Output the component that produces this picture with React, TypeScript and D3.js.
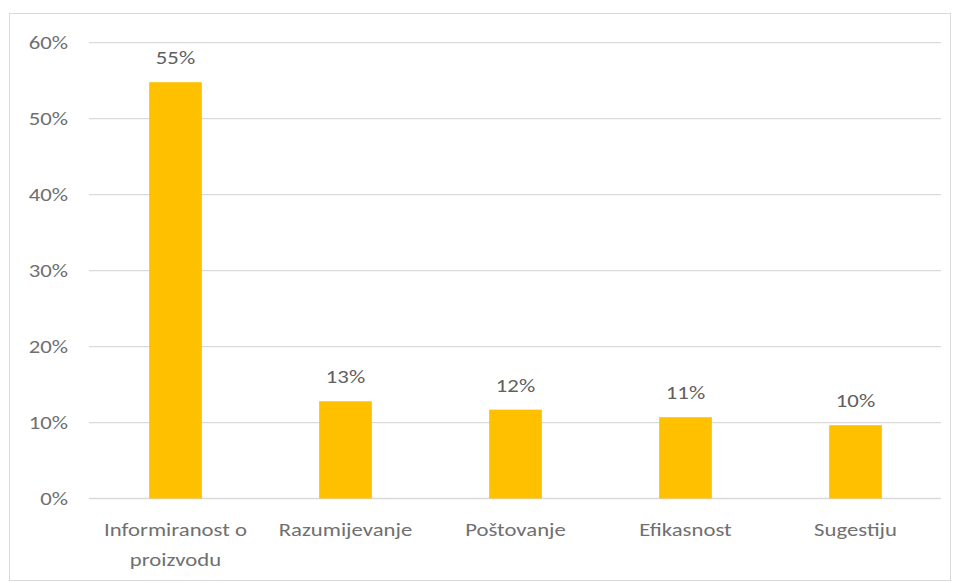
import React from "react";
import * as d3 from "d3";

const categories = ["Informiranost o|proizvodu", "Razumijevanje", "Poštovanje", "Efikasnost", "Sugestiju"];
const values = [0.548, 0.128, 0.117, 0.107, 0.0965];
const valueLabels = ["55%", "13%", "12%", "11%", "10%"];
const yTicks = [0, 0.1, 0.2, 0.3, 0.4, 0.5, 0.6];

const W = 958;
const H = 583;
const FONT = "Carlito, Calibri, Lato, 'Open Sans', sans-serif";
const SX = 1.3;

function T({ x, y, anchor, fill, children, dy }: any) {
  return (
    <text
      transform={`translate(${x},${y}) scale(${SX},1)`}
      dy={dy}
      textAnchor={anchor}
      fontFamily={FONT}
      fontSize={17.5}
      fill={fill}
    >
      {children}
    </text>
  );
}

export default function App() {
  const x = d3.scaleBand<string>().domain(categories).range([90.5, 940.5]).paddingInner(0.69).paddingOuter(0.345);
  const y = d3.scaleLinear().domain([0, 0.6]).range([498.5, 42.7]);
  const fmt = d3.format(".0%");
  return (
    <svg width={W} height={H} style={{ position: "absolute", left: 0, top: 0, background: "#fff" }}>
      <rect x={9.5} y={13.5} width={941} height={567} fill="#fff" stroke="#d9d9d9" strokeWidth={1} />
      {yTicks.map((t) => (
        <g key={t}>
          <line x1={89} x2={941} y1={y(t)} y2={y(t)} stroke="#d9d9d9" strokeWidth={1.3} />
          <T x={68} y={y(t)} dy="0.35em" anchor="end" fill="#707070">
            {fmt(t)}
          </T>
        </g>
      ))}
      {categories.map((c, i) => {
        const bx = x(c)!;
        const bw = x.bandwidth();
        const cx = bx + bw / 2;
        const lines = c.split("|");
        return (
          <g key={c}>
            <rect x={bx} y={y(values[i])} width={bw} height={y(0) - y(values[i])} fill="#ffc000" />
            <T x={cx} y={y(values[i]) - 18} anchor="middle" fill="#606060">
              {valueLabels[i]}
            </T>
            {lines.map((l, j) => (
              <T key={j} x={cx} y={536 + j * 30} anchor="middle" fill="#707070">
                {l}
              </T>
            ))}
          </g>
        );
      })}
    </svg>
  );
}
